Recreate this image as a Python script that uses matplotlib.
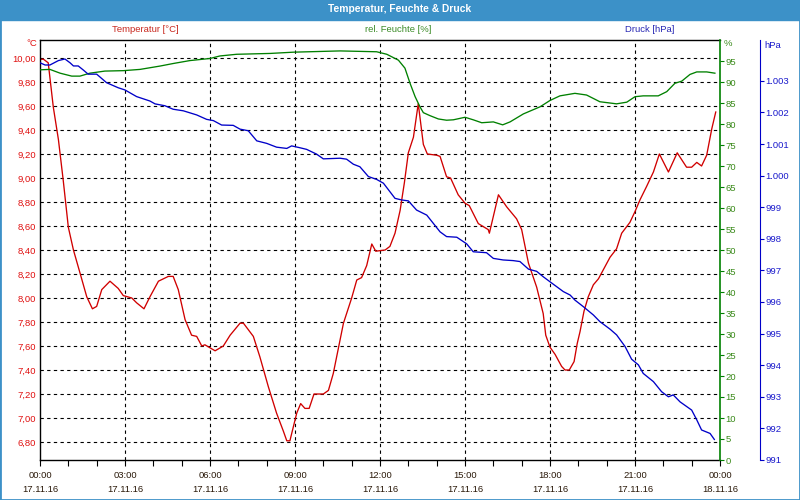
"""Weather station day chart: temperature, humidity and pressure on three y axes."""

import matplotlib
matplotlib.use("Agg")
import matplotlib.pyplot as plt
from matplotlib.patches import Rectangle
from matplotlib.ticker import FuncFormatter, MultipleLocator

plt.rcParams["font.family"] = ["Liberation Sans", "DejaVu Sans"]

# values, time in hours since 17.11.16 00:00
temp_hours = [0.00, 0.12, 0.29, 0.47, 0.65, 0.82, 1.00, 1.18, 1.41, 1.65, 1.85, 2.00, 2.18, 2.47,
              2.76, 2.94, 3.24, 3.41, 3.67, 3.88, 4.18, 4.53, 4.70, 4.88, 5.12, 5.35, 5.53, 5.71,
              5.82, 6.18, 6.47, 6.71, 7.06, 7.18, 7.53, 7.76, 8.06, 8.35, 8.59, 8.71, 8.82, 9.06,
              9.20, 9.35, 9.50, 9.67, 10.00, 10.18, 10.35, 10.71, 11.00, 11.18, 11.35, 11.53, 11.71,
              11.85, 12.18, 12.35, 12.53, 12.71, 12.86, 13.00, 13.18, 13.35, 13.53, 13.67, 14.00,
              14.12, 14.35, 14.49, 14.76, 15.00, 15.15, 15.47, 15.82, 15.86, 16.18, 16.47, 16.82,
              17.00, 17.24, 17.53, 17.76, 17.85, 18.00, 18.18, 18.41, 18.53, 18.68, 18.85, 18.96,
              19.06, 19.20, 19.35, 19.53, 19.71, 20.12, 20.35, 20.53, 20.82, 21.00, 21.18, 21.41,
              21.65, 21.86, 22.18, 22.49, 22.82, 23.00, 23.18, 23.35, 23.53, 23.71, 23.85]
temp_values = [9.99, 9.99, 9.96, 9.59, 9.32, 8.98, 8.59, 8.40, 8.21, 8.01, 7.91, 7.93, 8.07, 8.14,
               8.08, 8.02, 8.00, 7.96, 7.91, 8.01, 8.14, 8.18, 8.18, 8.07, 7.82, 7.69, 7.68, 7.60,
               7.61, 7.56, 7.60, 7.69, 7.79, 7.79, 7.68, 7.51, 7.26, 7.04, 6.89, 6.81, 6.81, 7.04,
               7.12, 7.08, 7.08, 7.20, 7.20, 7.23, 7.37, 7.79, 8.00, 8.15, 8.17, 8.27, 8.45,
               8.39, 8.40, 8.43, 8.54, 8.73, 8.96, 9.21, 9.34, 9.62, 9.28, 9.20, 9.19,
               9.18, 9.01, 9.00, 8.86, 8.79, 8.77, 8.62, 8.57, 8.54, 8.86, 8.76, 8.66,
               8.57, 8.29, 8.09, 7.87, 7.69, 7.59, 7.53, 7.43, 7.40, 7.40, 7.47, 7.62,
               7.72, 7.89, 8.01, 8.11, 8.16, 8.34, 8.41, 8.54, 8.63, 8.72, 8.82, 8.93,
               9.05, 9.20, 9.05, 9.21, 9.09, 9.09, 9.13, 9.10, 9.19, 9.41, 9.55]

hum_hours = [0.00, 0.35, 0.71, 1.12, 1.41, 1.76, 2.29, 2.94, 3.53, 4.24, 4.70, 5.29, 6.00, 6.35,
             6.94, 8.12, 8.94, 10.59, 11.88, 12.24, 12.65, 12.88, 13.06, 13.24, 13.41, 13.53,
             13.76, 14.06, 14.35, 14.59, 15.00, 15.29, 15.59, 16.00, 16.33, 16.59, 17.06, 17.65,
             18.00, 18.35, 18.88, 19.29, 19.76, 20.35, 20.71, 21.00, 21.29, 21.82, 22.12, 22.41,
             22.65, 22.94, 23.18, 23.53, 23.82]
hum_values = [92.9, 93.0, 92.1, 91.4, 91.4, 92.1, 92.6, 92.7, 93.0, 93.8, 94.4, 95.1, 95.6, 96.2,
              96.6, 96.8, 97.1, 97.4, 97.2, 96.6, 95.2, 93.3, 89.7, 86.5, 84.1, 82.7,
              82.0, 81.2, 80.9, 81.0, 81.6, 81.0, 80.3, 80.5, 79.8, 80.5, 82.4, 84.1,
              85.6, 86.7, 87.3, 86.9, 85.3, 84.8, 85.2, 86.5, 86.7, 86.7, 87.7, 89.7,
              90.2, 91.8, 92.4, 92.4, 92.1]

press_hours = [0.00, 0.18, 0.35, 0.65, 0.88, 1.06, 1.18, 1.35, 1.53, 1.70, 2.00, 2.35, 2.76, 3.00,
               3.41, 3.88, 4.06, 4.41, 4.70, 5.06, 5.53, 5.88, 6.12, 6.41, 6.82, 7.06, 7.35, 7.65,
               8.00, 8.35, 8.71, 8.88, 9.18, 9.41, 9.76, 10.00, 10.59, 10.82, 11.06, 11.29, 11.59,
               11.88, 12.12, 12.53, 12.76, 13.00, 13.29, 13.65, 14.12, 14.35, 14.71, 15.06, 15.29,
               15.76, 16.00, 16.35, 16.70, 16.94, 17.24, 17.53, 17.76, 18.00, 18.47, 18.71, 18.88,
               19.18, 19.53, 19.76, 20.12, 20.35, 20.65, 20.88, 21.12, 21.29, 21.65, 21.94, 22.18,
               22.35, 22.59, 23.00, 23.18, 23.35, 23.65, 23.80]
press_values = [1003.57, 1003.50, 1003.50, 1003.64, 1003.69, 1003.57, 1003.47, 1003.47, 1003.34,
                1003.21, 1003.21, 1002.94, 1002.78, 1002.71, 1002.50, 1002.36, 1002.27, 1002.21,
                1002.10, 1002.05, 1001.92, 1001.78, 1001.74, 1001.60, 1001.59, 1001.47, 1001.42,
                1001.10, 1001.02, 1000.90, 1000.86, 1000.94, 1000.88, 1000.83, 1000.68, 1000.53,
                1000.55, 1000.52, 1000.36, 1000.28, 999.97, 999.88, 999.76, 999.28, 999.23, 999.20,
                998.91, 998.75, 998.22, 998.07, 998.05, 997.84, 997.59, 997.56, 997.38, 997.33,
                997.31, 997.28, 997.04, 996.97, 996.80, 996.64, 996.33, 996.22, 996.06, 995.85,
                995.59, 995.38, 995.14, 994.96, 994.59, 994.19, 994.01, 993.74, 993.48, 993.16,
                993.00, 993.06, 992.84, 992.58, 992.27, 991.95, 991.84, 991.65]

tick_hours = [0, 3, 6, 9, 12, 15, 18, 21, 24]
tick_labels = ["00:00\n17.11.16", "03:00\n17.11.16", "06:00\n17.11.16", "09:00\n17.11.16",
               "12:00\n17.11.16", "15:00\n17.11.16", "18:00\n17.11.16", "21:00\n17.11.16",
               "00:00\n18.11.16"]

BAND = "#3c91c8"
RED, GREEN, BLUE = "#d00000", "#008000", "#0000c8"
SIZE = 6.8

fig = plt.figure(figsize=(8, 5), dpi=100)
fig.patches.append(Rectangle((0, 0.96), 1, 0.04, transform=fig.transFigure, color=BAND, zorder=0))
fig.patches.append(Rectangle((0, 0), 1, 1, transform=fig.transFigure, fill=False,
                             edgecolor=BAND, linewidth=2, zorder=5))
fig.text(0.5, 0.981, "Temperatur, Feuchte & Druck", color="white", fontsize=7.4,
         fontweight="bold", ha="center", va="center")
fig.text(145 / 800, 1 - 30 / 500, "Temperatur [°C]", color="#c8281e", fontsize=SIZE, ha="center", va="center")
fig.text(398 / 800, 1 - 30 / 500, "rel. Feuchte [%]", color="#3c8c28", fontsize=SIZE, ha="center", va="center")
fig.text(650 / 800, 1 - 30 / 500, "Druck [hPa]", color="#2828b4", fontsize=SIZE, ha="center", va="center")

ax = fig.add_axes([40 / 800, 40 / 500, 680 / 800, 420 / 500])
ax.plot(temp_hours, temp_values, color=RED, linewidth=0.95)
ax.set_xlim(0, 24)
ax.set_ylim(6.65, 10.15)
ax.yaxis.set_major_locator(MultipleLocator(0.2))
ax.yaxis.set_major_formatter(FuncFormatter(lambda v, _: f"{v:.2f}".replace(".", ",")))
ax.tick_params(axis="y", length=0, pad=3, labelcolor="#e01010", labelsize=SIZE)
ax.set_xticks(tick_hours, tick_labels)
ax.xaxis.set_minor_locator(MultipleLocator(1))
ax.tick_params(axis="x", which="both", length=4, width=0.8, direction="out",
               labelsize=SIZE, labelcolor="#2b1a0a", pad=4)
for label in ax.get_xticklabels():
    label.set_linespacing(1.75)
for spine in ("left", "bottom", "top"):
    ax.spines[spine].set_linewidth(1.0)
ax.spines["right"].set_visible(False)

# dashed grid, skipping lines on the frame itself
for h in tick_hours[1:-1]:
    ax.axvline(h, color="black", linestyle=(0, (3, 3)), linewidth=0.8, zorder=0)
for t in [6.8 + 0.2 * i for i in range(17)]:
    ax.axhline(t, color="black", linestyle=(0, (3, 3)), linewidth=0.8, zorder=0)

hum = ax.twinx()
hum.plot(hum_hours, hum_values, color=GREEN, linewidth=0.95)
hum.set_ylim(0, 100)
hum.set_yticks(range(0, 100, 5))
hum.tick_params(axis="y", length=3, width=0.8, labelcolor="#3a8a1a", color=GREEN, labelsize=SIZE, pad=1)
hum.spines["right"].set_color(GREEN)
hum.spines["right"].set_linewidth(1.2)
for spine in ("left", "top", "bottom"):
    hum.spines[spine].set_visible(False)

press = ax.twinx()
press.plot(press_hours, press_values, color=BLUE, linewidth=0.95)
press.set_ylim(991, 991 + 420 / 31.6)
press.set_yticks(range(991, 1004))
press.yaxis.set_major_formatter(FuncFormatter(lambda v, _: f"{int(round(v)):,}".replace(",", ".")))
press.tick_params(axis="y", length=3, width=0.8, labelcolor="#1a1acc", color=BLUE, labelsize=SIZE, pad=1)
press.spines["right"].set_position(("outward", 40 * 72 / 100))  # 40 px right of the plot
press.spines["right"].set_color(BLUE)
for spine in ("left", "top", "bottom"):
    press.spines[spine].set_visible(False)

fig.text(37 / 800, 1 - 44 / 500, "°C", color="#e01010", fontsize=SIZE, ha="right", va="center")
fig.text(724 / 800, 1 - 44 / 500, "%", color="#3a8a1a", fontsize=SIZE, ha="left", va="center")
fig.text(764 / 800, 1 - 45 / 500, "hPa", color="#1a1acc", fontsize=SIZE, ha="left", va="center")

fig.savefig("out.png", dpi=100, facecolor="white")
